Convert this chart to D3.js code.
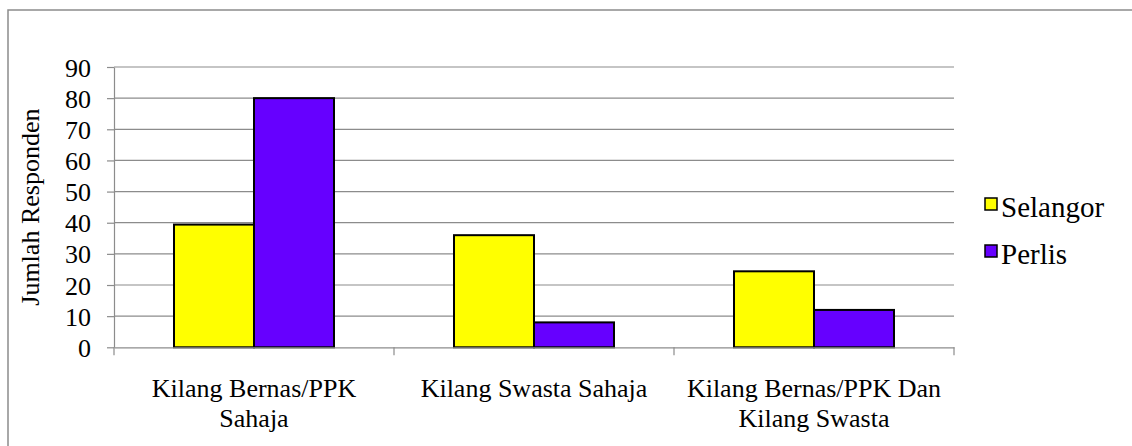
<!DOCTYPE html>
<html lang="ms">
<head>
<meta charset="UTF-8">
<title>Jumlah Responden</title>
<script src="https://d3js.org/d3.v7.min.js"></script>
<style>
  body { margin: 0; background: #fff; }
  svg { display: block; }
  .grid line { stroke: #8c8c8c; stroke-width: 1.2; }
  .axis path, .axis line { stroke: #8c8c8c; stroke-width: 1.2; }
</style>
</head>
<body>
<svg id="chart" width="1132" height="446"></svg>
<script>
// Chart data
const categories = ["Kilang Bernas/PPK Sahaja", "Kilang Swasta Sahaja", "Kilang Bernas/PPK Dan Kilang Swasta"];
const categoryLines = [["Kilang Bernas/PPK", "Sahaja"], ["Kilang Swasta Sahaja"], ["Kilang Bernas/PPK Dan", "Kilang Swasta"]];
const series = ["Selangor", "Perlis"];
const selangor = [39.4, 36, 24.4];
const perlis = [80, 8, 12];
const yTicks = [0, 10, 20, 30, 40, 50, 60, 70, 80, 90];
const colors = ["#ffff00", "#6600ff"];

const FONT = "Liberation Serif";
const svg = d3.select("#chart");
const plot = { left: 114, right: 954, top: 67, bottom: 347.3 };

// outer chart frame (runs off right and bottom edges)
svg.append("rect")
  .attr("x", 8).attr("y", 10)
  .attr("width", 1200).attr("height", 500)
  .attr("fill", "none")
  .attr("stroke", "#8c8c8c")
  .attr("stroke-width", 1.5);

const x0 = d3.scaleBand().domain(categories).range([plot.left, plot.right]);
const x1 = d3.scaleBand().domain(series).range([0, x0.bandwidth()]).paddingInner(0).paddingOuter(0.75);
const y = d3.scaleLinear().domain([0, 90]).range([plot.bottom, plot.top]);

// gridlines
svg.append("g").attr("class", "grid")
  .selectAll("line")
  .data(yTicks.filter(d => d > 0))
  .enter().append("line")
  .attr("x1", plot.left).attr("x2", plot.right)
  .attr("y1", d => y(d)).attr("y2", d => y(d));

// bars
const rows = categories.map((c, i) => ({ cat: c, values: [selangor[i], perlis[i]] }));
const group = svg.append("g")
  .selectAll("g")
  .data(rows)
  .enter().append("g")
  .attr("transform", d => `translate(${x0(d.cat)},0)`);

group.selectAll("rect")
  .data(d => d.values.map((v, j) => ({ key: series[j], value: v, color: colors[j] })))
  .enter().append("rect")
  .attr("x", d => x1(d.key))
  .attr("y", d => y(d.value))
  .attr("width", x1.bandwidth())
  .attr("height", d => y(0) - y(d.value))
  .attr("fill", d => d.color)
  .attr("stroke", "#000")
  .attr("stroke-width", 2);

// y axis
const yAxis = svg.append("g").attr("class", "axis")
  .attr("transform", `translate(${plot.left},0)`)
  .call(d3.axisLeft(y).tickValues(yTicks).tickSize(7).tickSizeOuter(0).tickPadding(16));
yAxis.attr("font-family", FONT).attr("font-size", 26);
yAxis.selectAll("text")
  .attr("dy", "0.35em")
  .attr("fill", "#000")
  .attr("font-family", FONT)
  .attr("font-size", 26);

// x axis
const xAxis = svg.append("g").attr("class", "axis")
  .attr("transform", `translate(0,${plot.bottom})`)
  .call(d3.axisBottom(x0).tickSize(0).tickSizeOuter(0).tickFormat(""));
xAxis.selectAll(".tick").remove();
xAxis.selectAll("line.sep")
  .data(d3.range(categories.length + 1))
  .enter().append("line")
  .attr("class", "sep")
  .attr("x1", i => i < categories.length ? x0(categories[i]) : plot.right)
  .attr("x2", i => i < categories.length ? x0(categories[i]) : plot.right)
  .attr("y1", 0).attr("y2", 8);

// category labels
const labels = svg.append("g")
  .selectAll("text")
  .data(categories)
  .enter().append("text")
  .attr("text-anchor", "middle")
  .attr("font-family", FONT)
  .attr("font-size", 26)
  .attr("x", d => x0(d) + x0.bandwidth() / 2)
  .attr("y", 396.7);
labels.each(function(d, i) {
  d3.select(this).selectAll("tspan")
    .data(categoryLines[i])
    .enter().append("tspan")
    .attr("x", x0(d) + x0.bandwidth() / 2)
    .attr("dy", (t, k) => k === 0 ? 0 : 30.5)
    .text(t => t);
});

// y axis title
svg.append("text")
  .attr("transform", `translate(39,${(plot.top + plot.bottom) / 2}) rotate(-90)`)
  .attr("text-anchor", "middle")
  .attr("font-family", FONT)
  .attr("font-size", 26)
  .text("Jumlah Responden");

// legend
const legend = svg.append("g")
  .selectAll("g")
  .data(series)
  .enter().append("g")
  .attr("transform", (d, i) => `translate(985,${198 + i * 47})`);
legend.append("rect")
  .attr("width", 12).attr("height", 12)
  .attr("fill", (d, i) => colors[i])
  .attr("stroke", "#000")
  .attr("stroke-width", 1.5);
legend.append("text")
  .attr("x", 16).attr("y", 18.5)
  .attr("font-family", FONT)
  .attr("font-size", 29)
  .text(d => d);
</script>
</body>
</html>
